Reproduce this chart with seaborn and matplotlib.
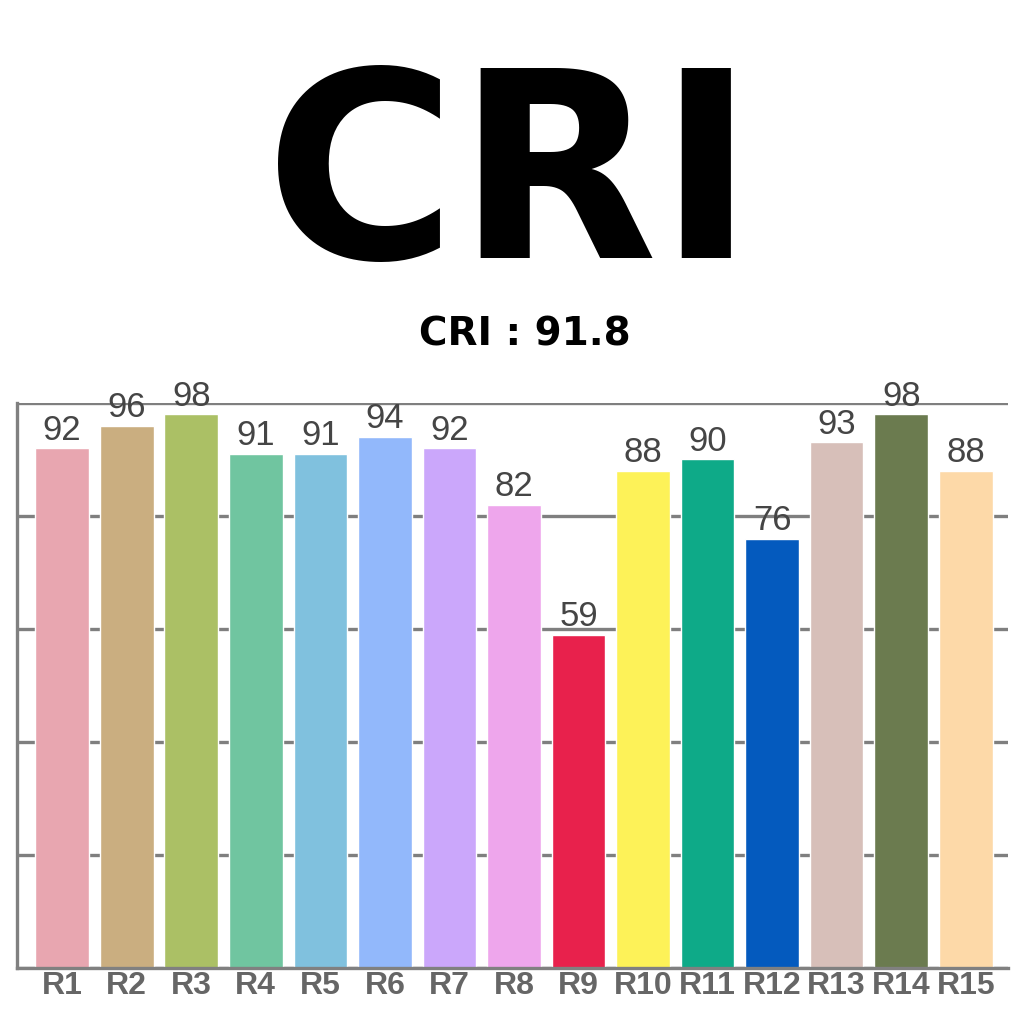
import matplotlib
matplotlib.use("Agg")
import matplotlib.pyplot as plt
import seaborn as sns
import pandas as pd

# data
labels = ["R1", "R2", "R3", "R4", "R5", "R6", "R7", "R8",
          "R9", "R10", "R11", "R12", "R13", "R14", "R15"]
values = [92, 96, 98, 91, 91, 94, 92, 82, 59, 88, 90, 76, 93, 98, 88]
colors = ["#E8A6B0", "#CAAE80", "#ABC065", "#70C5A0", "#80C1DE",
          "#92B8FB", "#CBA7FB", "#EEA6EC", "#E8214C", "#FDF258",
          "#0EAA88", "#045ABE", "#D7BFB9", "#6B7B4F", "#FDD9A8"]
title = "CRI"
subtitle = "CRI : 91.8"

df = pd.DataFrame({"name": labels, "value": values})

sns.set_style("white")
plt.rcParams["font.family"] = ["Liberation Sans", "DejaVu Sans"]

fig = plt.figure(figsize=(10.24, 10.24), dpi=100)
ax = fig.add_axes([0.0166, 0.0547, 0.9675, 0.5518])

sns.barplot(data=df, x="name", y="value", hue="name", palette=colors,
            legend=False, width=0.83, saturation=1, ax=ax)

for c in ax.containers:
    ax.bar_label(c, padding=1, fontsize=25, color="#454545")

ax.set_xlim(-0.7, 14.65)
ax.set_ylim(0, 100)
ax.set_yticks([0, 20, 40, 60, 80, 100])
ax.set_yticklabels([])
ax.yaxis.grid(True, color="#7f7f7f", linewidth=2.4)
ax.set_axisbelow(True)
ax.tick_params(axis="both", length=0)
ax.tick_params(axis="x", pad=2)
for t in ax.get_xticklabels():
    t.set_fontsize(23)
    t.set_fontweight("bold")
    t.set_color("#666666")
ax.set_xlabel("")
ax.set_ylabel("")

for s in ["top", "right"]:
    ax.spines[s].set_visible(False)
for s in ["left", "bottom"]:
    ax.spines[s].set_color("#808080")
    ax.spines[s].set_linewidth(2.4)

fig.text(0.4985, 0.748, title, fontsize=188, fontweight="bold",
         family="DejaVu Sans", ha="center", va="baseline", color="black")
fig.text(0.513, 0.663, subtitle, fontsize=28, fontweight="bold",
         family="DejaVu Sans", ha="center", va="baseline", color="black")

plt.savefig("out.png", dpi=100)
